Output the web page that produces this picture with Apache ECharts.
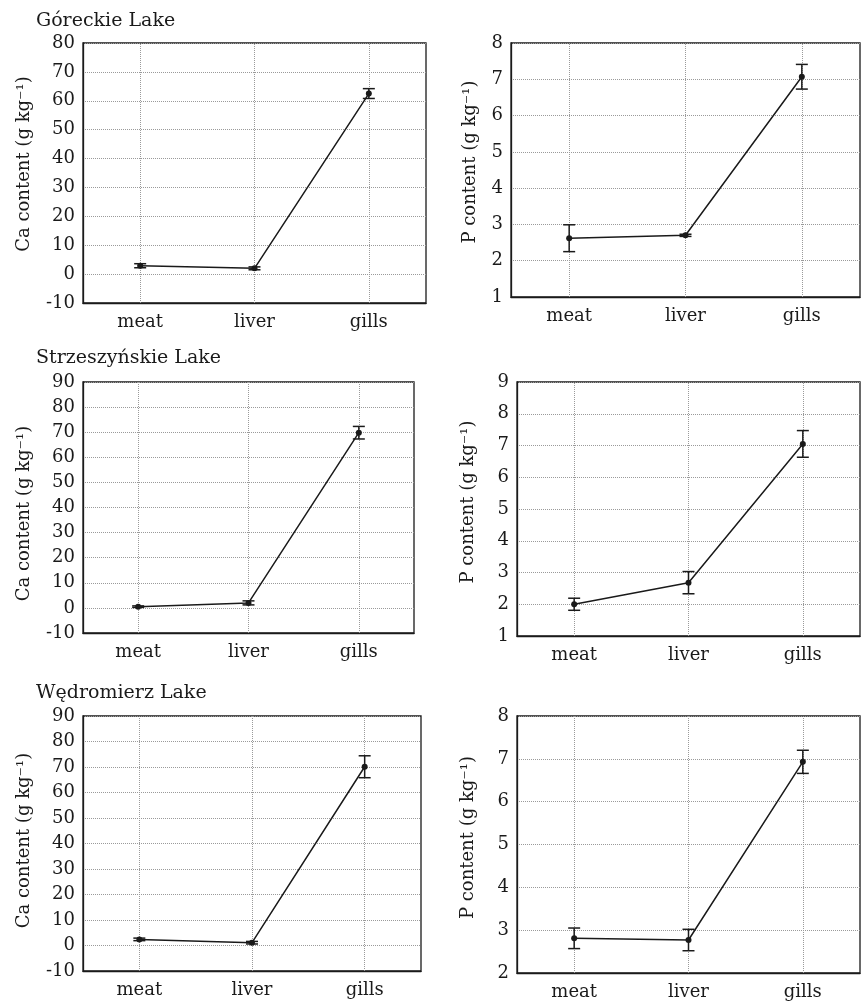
<!DOCTYPE html>
<html>
<head>
<meta charset="utf-8">
<script src="https://cdn.jsdelivr.net/npm/echarts@6/dist/echarts.min.js"></script>
<style>
html,body{margin:0;padding:0;background:#fff;}
#c{width:861px;height:1002px;}
</style>
</head>
<body>
<div id="c"></div>
<script>
// ---- data ----
const categories = ['meat', 'liver', 'gills'];
const lakes = ['Góreckie Lake', 'Strzeszyńskie Lake', 'Wędromierz Lake'];

const caGoreckieMean = [2.9, 2.0, 62.5];
const caGoreckieErr  = [0.7, 0.5, 1.7];
const pGoreckieMean  = [2.62, 2.70, 7.07];
const pGoreckieErr   = [0.37, 0.03, 0.34];

const caStrzeszMean = [0.5, 2.0, 69.8];
const caStrzeszErr  = [0.3, 0.8, 2.5];
const pStrzeszMean  = [2.00, 2.68, 7.05];
const pStrzeszErr   = [0.19, 0.35, 0.42];

const caWedroMean = [2.4, 1.1, 70.1];
const caWedroErr  = [0.5, 0.5, 4.3];
const pWedroMean  = [2.81, 2.77, 6.93];
const pWedroErr   = [0.24, 0.25, 0.27];

const caAxisName = 'Ca content (g kg⁻¹)';
const pAxisName = 'P content (g kg⁻¹)';

// ---- layout ----
const FONT = 'DejaVu Serif';
const INK = '#1a1a1a';
const panels = [
  {grid:{left:83, top:43, width:343, height:260}, min:-10, max:80, interval:10, name:caAxisName, gap:50, shift:9, mean:caGoreckieMean, err:caGoreckieErr},
  {grid:{left:511, top:43, right:1, height:254}, min:1, max:8, interval:1, name:pAxisName, gap:32, shift:8, mean:pGoreckieMean, err:pGoreckieErr},
  {grid:{left:83, top:382, width:331, height:251}, min:-10, max:90, interval:10, name:caAxisName, gap:50, shift:-6, mean:caStrzeszMean, err:caStrzeszErr},
  {grid:{left:517, top:382, right:1, height:254}, min:1, max:9, interval:1, name:pAxisName, gap:40, shift:7, mean:pStrzeszMean, err:pStrzeszErr},
  {grid:{left:83, top:716, width:338, height:255}, min:-10, max:90, interval:10, name:caAxisName, gap:50, shift:3, mean:caWedroMean, err:caWedroErr},
  {grid:{left:517, top:716, right:1, height:257}, min:2, max:8, interval:1, name:pAxisName, gap:40, shift:7, mean:pWedroMean, err:pWedroErr}
];
const titleTops = [7, 344, 679];

const grids = [], xAxes = [], yAxes = [], series = [];
panels.forEach((p, i) => {
  grids.push(Object.assign({show:true, borderColor:INK, borderWidth:1.3, backgroundColor:'transparent'}, p.grid));
  xAxes.push({
    type:'category', gridIndex:i, data:categories, boundaryGap:true,
    axisLine:{show:true, onZero:false, lineStyle:{color:INK, width:1.3}},
    axisTick:{show:false},
    axisLabel:{color:INK, fontFamily:FONT, fontSize:18, margin:10},
    splitLine:{show:false}
  });
  const pad = p.shift >= 0 ? [0, 0, 0, 2 * p.shift] : [0, -2 * p.shift, 0, 0];
  yAxes.push({
    type:'value', gridIndex:i, min:p.min, max:p.max, interval:p.interval,
    name:p.name, nameLocation:'middle', nameGap:p.gap, nameRotate:90,
    nameTextStyle:{color:INK, fontFamily:FONT, fontSize:18, padding:pad},
    axisLine:{show:true, onZero:false, lineStyle:{color:INK, width:1.3}},
    axisTick:{show:false},
    axisLabel:{color:INK, fontFamily:FONT, fontSize:18, margin:8},
    splitLine:{show:true, lineStyle:{color:'#9a9a9a', type:'dotted', width:1}}
  });
  series.push({
    type:'line', xAxisIndex:i, yAxisIndex:i, data:p.mean,
    symbol:'circle', symbolSize:6, itemStyle:{color:INK},
    lineStyle:{color:INK, width:1.5}, animation:false, silent:true, z:5,
    markLine:{
      silent:true, symbol:'none', label:{show:false}, animation:false,
      lineStyle:{color:'#9a9a9a', type:'dotted', width:1},
      data:categories.map(c => ({xAxis:c}))
    }
  });
  series.push({
    type:'custom', xAxisIndex:i, yAxisIndex:i, animation:false, silent:true, z:6,
    data:p.mean.map((m, k) => [k, m - p.err[k], m + p.err[k]]),
    renderItem:(params, api) => {
      const lo = api.coord([api.value(0), api.value(1)]);
      const hi = api.coord([api.value(0), api.value(2)]);
      const hw = 6;
      const st = {stroke:INK, lineWidth:1.5};
      return {type:'group', children:[
        {type:'line', shape:{x1:lo[0], y1:lo[1], x2:hi[0], y2:hi[1]}, style:st},
        {type:'line', shape:{x1:lo[0]-hw, y1:lo[1], x2:lo[0]+hw, y2:lo[1]}, style:st},
        {type:'line', shape:{x1:hi[0]-hw, y1:hi[1], x2:hi[0]+hw, y2:hi[1]}, style:st}
      ]};
    }
  });
});

const chart = echarts.init(document.getElementById('c'), null, {renderer:'canvas'});
chart.setOption({
  backgroundColor:'#fff',
  animation:false,
  title: lakes.map((t, i) => ({
    text:t, left:31, top:titleTops[i],
    textStyle:{color:INK, fontFamily:FONT, fontSize:19, fontWeight:'normal'}
  })),
  grid:grids, xAxis:xAxes, yAxis:yAxes, series:series
});
</script>
</body>
</html>
